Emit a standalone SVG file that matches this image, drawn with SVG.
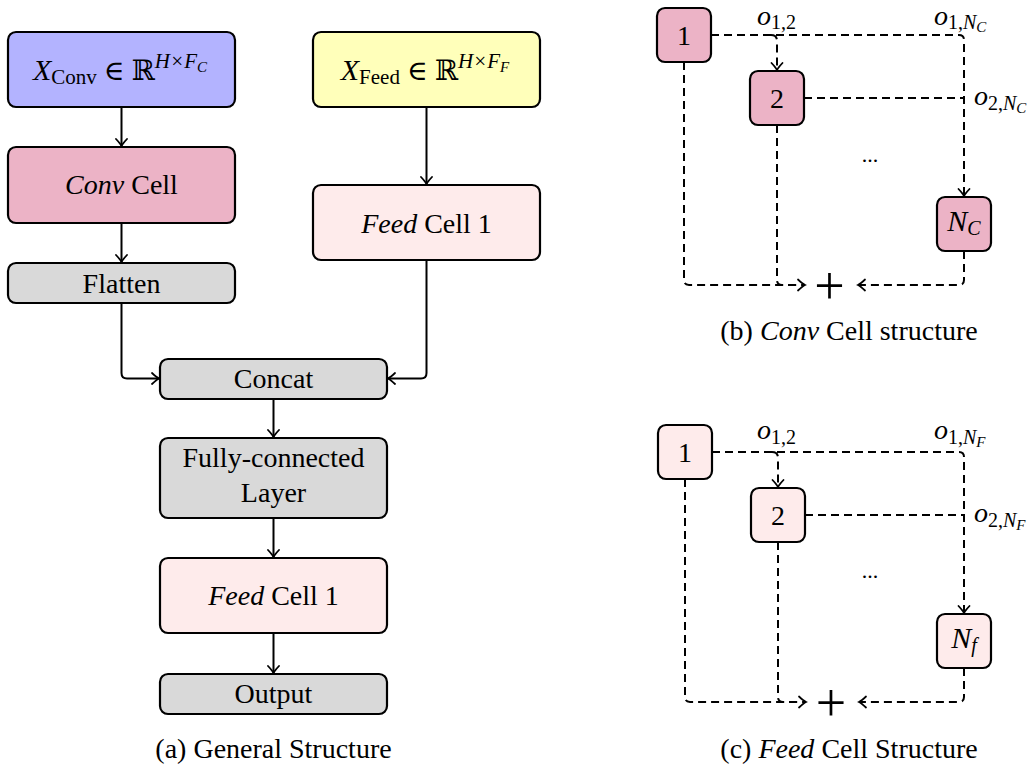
<svg xmlns="http://www.w3.org/2000/svg" width="1034" height="765" viewBox="0 0 1034 765">
<defs>
<style>
text{font-family:"Liberation Serif","DejaVu Serif",serif;fill:#000}
.t{font-size:28px;text-anchor:middle}
.n{font-size:28px;text-anchor:middle}
.cap{font-size:28px;text-anchor:middle}
.lbl{font-size:28px}
.box{stroke:#000;stroke-width:2.2}
.blue{fill:#B3B3FF}.yel{fill:#FFFFBA}.pink{fill:#ECB3C6}.lpink{fill:#FEEBEB}.gray{fill:#D9D9D9}
.c{fill:none;stroke:#000;stroke-width:2}
.d{fill:none;stroke:#000;stroke-width:2;stroke-dasharray:8 5}
</style>
<marker id="ah" viewBox="-9 -7 11 14" refX="0" refY="0" markerWidth="11" markerHeight="14" markerUnits="userSpaceOnUse" orient="auto">
<path d="M-7,-5.5 Q-2.5,-1.3 0,0 Q-2.5,1.3 -7,5.5" fill="none" stroke="#000" stroke-width="1.8" stroke-linecap="round" stroke-dasharray="none"/>
</marker>
</defs>

<g id="connectors">
<path class="c" d="M121.5 107 V146" marker-end="url(#ah)"/>
<path class="c" d="M121.5 223 V262" marker-end="url(#ah)"/>
<path class="c" d="M121.5 303 V373 Q121.5 378.5 127 378.5 H159" marker-end="url(#ah)"/>
<path class="c" d="M426.5 107 V184" marker-end="url(#ah)"/>
<path class="c" d="M426.5 260 V373 Q426.5 378.5 421 378.5 H388" marker-end="url(#ah)"/>
<path class="c" d="M273.5 399 V437" marker-end="url(#ah)"/>
<path class="c" d="M273.5 518 V557" marker-end="url(#ah)"/>
<path class="c" d="M273.5 633 V673" marker-end="url(#ah)"/>

<path class="d" d="M711 35 H959 Q964 35 964 40 V196" marker-end="url(#ah)"/>
<path class="d" d="M771 35 Q777 35 777 41 V70" marker-end="url(#ah)"/>
<path class="d" d="M804 98 H964"/>
<path class="d" d="M684 62 V280 Q684 285 689 285 H805" marker-end="url(#ah)"/>
<path class="d" d="M777 125 V280 Q777 285 782 285 H800"/>
<path class="d" d="M964 251 V280 Q964 285 959 285 H858" marker-end="url(#ah)"/>

<path class="d" d="M712 452 H959 Q964 452 964 457 V613" marker-end="url(#ah)"/>
<path class="d" d="M772 452 Q778 452 778 458 V487" marker-end="url(#ah)"/>
<path class="d" d="M805 515 H964"/>
<path class="d" d="M685 479 V697 Q685 702 690 702 H806" marker-end="url(#ah)"/>
<path class="d" d="M778 542 V697 Q778 702 783 702 H801"/>
<path class="d" d="M964 668 V697 Q964 702 959 702 H859" marker-end="url(#ah)"/>
</g>

<g id="xconv"><rect class="box blue" x="8" y="32" width="227" height="75" rx="8"/>
<text class="t" x="120" y="80"><tspan font-style="italic" font-size="30">X</tspan><tspan font-size="21" dy="4">Conv</tspan><tspan dy="-4"> ∈ ℝ</tspan><tspan font-size="21" font-style="italic" dy="-12">H×F</tspan><tspan font-size="15" font-style="italic" dy="4">C</tspan></text></g>
<g id="convcell"><rect class="box pink" x="8" y="147" width="227" height="76" rx="8"/>
<text class="t" x="121.5" y="194"><tspan font-style="italic">Conv</tspan> Cell</text></g>
<g id="flatten"><rect class="box gray" x="8" y="263" width="227" height="40" rx="8"/>
<text class="t" x="121.5" y="293">Flatten</text></g>
<g id="xfeed"><rect class="box yel" x="313" y="32" width="227" height="75" rx="8"/>
<text class="t" x="425" y="80"><tspan font-style="italic" font-size="30">X</tspan><tspan font-size="21" dy="4">Feed</tspan><tspan dy="-4"> ∈ ℝ</tspan><tspan font-size="21" font-style="italic" dy="-12">H×F</tspan><tspan font-size="15" font-style="italic" dy="4">F</tspan></text></g>
<g id="feedcell1"><rect class="box lpink" x="313" y="185" width="227" height="75" rx="8"/>
<text class="t" x="426.5" y="233"><tspan font-style="italic">Feed</tspan> Cell 1</text></g>
<g id="concat"><rect class="box gray" x="160" y="359" width="227" height="40" rx="8"/>
<text class="t" x="273.5" y="388">Concat</text></g>
<g id="fc"><rect class="box gray" x="160" y="438" width="227" height="80" rx="8"/>
<text class="t" x="273.5" y="467">Fully-connected</text>
<text class="t" x="273.5" y="502">Layer</text></g>
<g id="feedcell2"><rect class="box lpink" x="160" y="558" width="227" height="75" rx="8"/>
<text class="t" x="273.5" y="605"><tspan font-style="italic">Feed</tspan> Cell 1</text></g>
<g id="output"><rect class="box gray" x="160" y="674" width="227" height="40" rx="8"/>
<text class="t" x="273.5" y="703">Output</text></g>
<text class="cap" x="273.5" y="758">(a) General Structure</text>

<g id="b1"><rect class="box pink" x="657" y="8" width="54" height="54" rx="8"/><text class="n" x="684" y="45">1</text></g>
<g id="b2"><rect class="box pink" x="750" y="71" width="54" height="54" rx="8"/><text class="n" x="777" y="108">2</text></g>
<g id="bN"><rect class="box pink" x="937" y="197" width="54" height="54" rx="8"/><text class="n" x="964" y="231"><tspan font-style="italic" font-size="30">N</tspan><tspan font-size="20" font-style="italic" dy="4">C</tspan></text></g>
<text class="lbl" x="757" y="25"><tspan font-style="italic">o</tspan><tspan font-size="20" dy="4">1,2</tspan></text>
<text class="lbl" x="934" y="25"><tspan font-style="italic">o</tspan><tspan font-size="20" dy="4">1,</tspan><tspan font-size="20" font-style="italic">N</tspan><tspan font-size="15" font-style="italic" dy="3">C</tspan></text>
<text class="lbl" x="974" y="105"><tspan font-style="italic">o</tspan><tspan font-size="20" dy="5">2,</tspan><tspan font-size="20" font-style="italic">N</tspan><tspan font-size="15" font-style="italic" dy="3">C</tspan></text>
<text x="870" y="162" font-size="22" text-anchor="middle">...</text>
<text x="829.5" y="304" font-size="54" text-anchor="middle">+</text>
<text class="cap" x="849" y="340">(b) <tspan font-style="italic">Conv</tspan> Cell structure</text>

<g id="c1"><rect class="box lpink" x="658" y="425" width="54" height="54" rx="8"/><text class="n" x="685" y="462">1</text></g>
<g id="c2"><rect class="box lpink" x="751" y="488" width="54" height="54" rx="8"/><text class="n" x="778" y="525">2</text></g>
<g id="cN"><rect class="box lpink" x="937" y="614" width="54" height="54" rx="8"/><text class="n" x="964" y="648"><tspan font-style="italic" font-size="30">N</tspan><tspan font-size="20" font-style="italic" dy="4">f</tspan></text></g>
<text class="lbl" x="757" y="439"><tspan font-style="italic">o</tspan><tspan font-size="20" dy="5">1,2</tspan></text>
<text class="lbl" x="934" y="439"><tspan font-style="italic">o</tspan><tspan font-size="20" dy="5">1,</tspan><tspan font-size="20" font-style="italic">N</tspan><tspan font-size="15" font-style="italic" dy="3">F</tspan></text>
<text class="lbl" x="974" y="522"><tspan font-style="italic">o</tspan><tspan font-size="20" dy="5">2,</tspan><tspan font-size="20" font-style="italic">N</tspan><tspan font-size="15" font-style="italic" dy="3">F</tspan></text>
<text x="870" y="578" font-size="22" text-anchor="middle">...</text>
<text x="831" y="721" font-size="54" text-anchor="middle">+</text>
<text class="cap" x="849" y="758">(c) <tspan font-style="italic">Feed</tspan> Cell Structure</text>
</svg>
